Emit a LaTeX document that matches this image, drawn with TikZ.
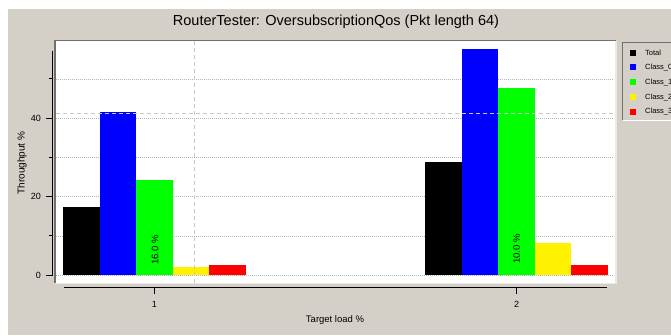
\documentclass[tikz,border=0pt]{standalone}
\usepackage{fontspec}
\setmainfont{Liberation Sans}
\definecolor{bg}{HTML}{D4D0C8}
\definecolor{gridc}{HTML}{B4B4B4}
\definecolor{dashc}{HTML}{C8C8C8}
\definecolor{darkb}{HTML}{707070}
\definecolor{lightb}{HTML}{ECEAE6}
\tikzset{
  gridline/.style={gridc, line width=0.5pt, dash pattern=on 1pt off 1pt},
  refline/.style={dashc, line width=1pt, dash pattern=on 4pt off 3pt},
  axisline/.style={black, line width=0.8pt},
  ticklbl/.style={font=\fontsize{9}{10}\selectfont, inner sep=0pt},
  legtxt/.style={font=\fontsize{7.5}{8}\selectfont, anchor=west, inner sep=0pt},
  legsq/.style={minimum size=6pt, inner sep=0pt, draw=none},
  barlbl/.style={font=\fontsize{9.5}{10}\selectfont, rotate=90, inner sep=0pt}
}
\begin{document}
\begin{tikzpicture}[x=1pt,y=-1pt]
\useasboundingbox (0,0) rectangle (671,335);
\fill[white] (0,0) rectangle (671,335);
\fill[bg] (8,9) rectangle (671,335);
% title
\node[font=\fontsize{14.5}{16}\selectfont, inner sep=0pt] (title) at (336,22) {RouterTester: OversubscriptionQos (Pkt length 64)};
% plot area
\fill[white] (55,40.5) rectangle (616,283);
% grid lines
\foreach \v in {0,10,20,30,40,50}
  \draw[gridline] (56,{275-3.925*\v}) -- (614,{275-3.925*\v});
% bars group 1
\def\bw{36.5}
\def\ga{63.05}
\def\gb{425.45}
\fill[black] (\ga,275) rectangle ({\ga+\bw},{275-3.925*17.4});
\fill[blue] ({\ga+\bw},275) rectangle ({\ga+2*\bw},{275-3.925*41.5});
\fill[green] ({\ga+2*\bw},275) rectangle ({\ga+3*\bw},{275-3.925*24.2});
\fill[yellow] ({\ga+3*\bw},275) rectangle ({\ga+4*\bw},{275-3.925*2.0});
\fill[red] ({\ga+4*\bw},275) rectangle ({\ga+5*\bw},{275-3.925*2.5});
% bars group 2
\fill[black] (\gb,275) rectangle ({\gb+\bw},{275-3.925*28.9});
\fill[blue] ({\gb+\bw},275) rectangle ({\gb+2*\bw},{275-3.925*57.6});
\fill[green] ({\gb+2*\bw},275) rectangle ({\gb+3*\bw},{275-3.925*47.6});
\fill[yellow] ({\gb+3*\bw},275) rectangle ({\gb+4*\bw},{275-3.925*8.1});
\fill[red] ({\gb+4*\bw},275) rectangle ({\gb+5*\bw},{275-3.925*2.5});
% reference dashed lines
\draw[refline] (56,113.3) -- (614,113.3);
\draw[refline] (194,41) -- (194,283);
% bar labels
\node[barlbl] (lab1) at (155,250) {16.0 \%};
\node[barlbl] (lab2) at (516.5,249) {10.0 \%};
% plot border
\draw[darkb, line width=1.2pt] (55,283) -- (55,40.5) -- (616,40.5);
\draw[lightb, line width=1.5pt] (616,40.5) -- (616,283.5) -- (55,283.5);
% y axis
\draw[axisline] (52.7,50.5) -- (52.7,276);
\foreach \v in {0,20,40}
  \draw[axisline] (46,{275-3.925*\v}) -- (52.7,{275-3.925*\v});
\foreach \v in {10,30,50}
  \draw[axisline] (48.5,{275-3.925*\v}) -- (52.7,{275-3.925*\v});
\node[ticklbl, anchor=east] (y0) at (41,275) {0};
\node[ticklbl, anchor=east] (y20) at (41,{275-3.925*20}) {20};
\node[ticklbl, anchor=east] (y40) at (41,{275-3.925*40}) {40};
\node[font=\fontsize{10}{11}\selectfont, rotate=90, inner sep=0pt] (ytitle) at (22,163) {Throughput \%};
% x axis
\draw[axisline] (64,287.3) -- (606.7,287.3);
\draw[axisline] (154.3,287.3) -- (154.3,294);
\draw[axisline] (516.7,287.3) -- (516.7,294);
\node[ticklbl] (x1) at (154.3,304) {1};
\node[ticklbl] (x2) at (516.7,304) {2};
\node[font=\fontsize{9.5}{10}\selectfont, inner sep=0pt] (xtitle) at (335,320) {Target load \%};
% legend
\begin{scope}
\clip (600,30) rectangle (671,130);
\draw[darkb, line width=1pt] (622,120) -- (622,42.5) -- (680,42.5);
\draw[white, line width=1pt] (622.5,120.5) -- (680,120.5);
\node[legsq, fill=black] (s0) at (633.3,52.7) {};
\node[legsq, fill=blue] (s1) at (633.3,67.3) {};
\node[legsq, fill=green] (s2) at (633.3,82.3) {};
\node[legsq, fill=yellow] (s3) at (633.3,97.3) {};
\node[legsq, fill=red] (s4) at (633.3,111.5) {};
\node[legtxt] (t0) at (645,52.7) {Total};
\node[legtxt] (t1) at (645,67.3) {Class\_0};
\node[legtxt] (t2) at (645,82.3) {Class\_1};
\node[legtxt] (t3) at (645,97.3) {Class\_2};
\node[legtxt] (t4) at (645,111.5) {Class\_3};
\end{scope}
\end{tikzpicture}
\end{document}
